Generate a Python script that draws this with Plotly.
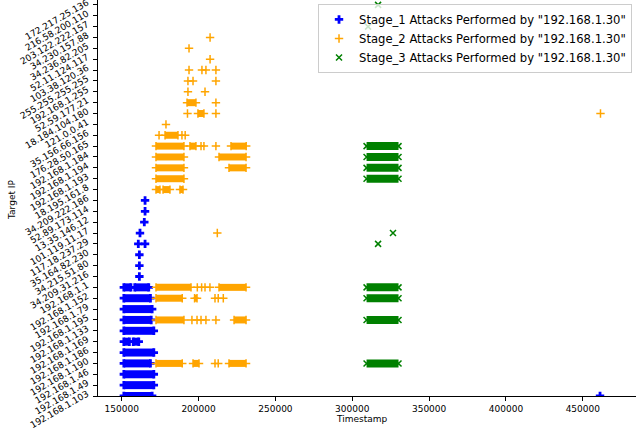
import plotly.graph_objects as go

# ---- categories (bottom -> top) ----
IPS = ["192.168.1.103", "192.168.1.49", "192.168.1.46", "192.168.1.190", "192.168.1.186",
       "192.168.1.169", "192.168.1.133", "192.168.1.195", "192.168.1.79", "192.168.1.152",
       "192.168.1.1", "34.209.31.216", "34.215.51.80", "35.164.82.230", "117.18.237.29",
       "101.119.11.17", "13.35.146.12", "52.89.173.114", "34.209.222.186", "18.195.161.8",
       "192.168.1.193", "192.168.1.194", "192.168.1.184", "176.28.50.165", "35.156.66.156",
       "121.0.0.41", "18.184.104.180", "52.59.177.21", "192.168.1.255", "255.255.255.255",
       "103.38.120.36", "52.11.124.117", "34.236.82.205", "34.230.157.88", "203.122.222.157",
       "216.58.200.110", "172.217.25.136"]

X_TICKS = [150000, 200000, 250000, 300000, 350000, 400000, 450000]

# ---- Stage 1: dense runs (start/end timestamps) and single events ----
S1_RUN_IP = ["192.168.1.103", "192.168.1.49", "192.168.1.46", "192.168.1.190", "192.168.1.186",
             "192.168.1.169", "192.168.1.169", "192.168.1.133", "192.168.1.195", "192.168.1.79",
             "192.168.1.152", "192.168.1.1", "192.168.1.1"]
S1_RUN_START = [151400, 151400, 151400, 151400, 151400, 151400, 157500, 151400, 151400, 151400,
                151400, 151400, 158500]
S1_RUN_END = [169800, 170900, 170900, 168700, 170900, 155000, 161100, 170900, 169200, 169800,
              168700, 156000, 167600]
S1_PT_IP = ["34.209.222.186", "52.89.173.114", "13.35.146.12", "101.119.11.17", "117.18.237.29",
            "117.18.237.29", "35.164.82.230", "34.215.51.80", "34.209.31.216", "192.168.1.103"]
S1_PT_T = [165200, 165200, 164700, 161900, 160800, 165200, 161500, 161500, 161500, 461200]

# ---- Stage 2 ----
S2_RUN_IP = ["192.168.1.1", "192.168.1.1",
             "192.168.1.152", "192.168.1.152",
             "192.168.1.195", "192.168.1.195",
             "192.168.1.190", "192.168.1.190", "192.168.1.190",
             "18.195.161.8", "18.195.161.8", "18.195.161.8",
             "192.168.1.193",
             "192.168.1.194", "192.168.1.194",
             "192.168.1.184", "192.168.1.184",
             "176.28.50.165", "176.28.50.165", "176.28.50.165",
             "35.156.66.156", "18.184.104.180", "52.59.177.21"]
S2_RUN_START = [172300, 213300,
                172300, 197400,
                172300, 223100,
                172300, 196400, 219800,
                172300, 176900, 187900,
                172300,
                172300, 219800,
                172300, 213300,
                172300, 194400, 221100,
                178200, 199600, 192500]
S2_RUN_END = [195100, 230900,
              189400, 199000,
              190500, 230900,
              189400, 200300, 230900,
              174900, 181400, 189900,
              190500,
              190500, 230900,
              190500, 230900,
              190500, 198300, 231000,
              186600, 203500, 198300]
S2_PT_IP = ["192.168.1.1", "192.168.1.1", "192.168.1.1", "192.168.1.1",
            "192.168.1.152", "192.168.1.152", "192.168.1.152",
            "192.168.1.195", "192.168.1.195", "192.168.1.195", "192.168.1.195", "192.168.1.195",
            "192.168.1.190", "192.168.1.190",
            "176.28.50.165", "176.28.50.165", "176.28.50.165",
            "35.156.66.156", "35.156.66.156", "35.156.66.156",
            "121.0.0.41",
            "18.184.104.180", "18.184.104.180", "18.184.104.180",
            "52.59.177.21",
            "192.168.1.255", "192.168.1.255",
            "255.255.255.255", "255.255.255.255", "255.255.255.255",
            "103.38.120.36", "103.38.120.36", "103.38.120.36", "103.38.120.36",
            "52.11.124.117", "34.236.82.205", "34.230.157.88", "101.119.11.17"]
S2_PT_T = [199200, 202000, 204200, 207400,
           210700, 212800, 216100,
           195700, 199000, 201600, 204800, 211300,
           210700, 212800,
           201600, 203500, 211300,
           174300, 189200, 191300,
           178800,
           192800, 211300, 461500,
           211300,
           193100, 204200,
           193100, 196400, 211300,
           193800, 202200, 204800, 211300,
           207500, 193800, 207500, 212200]

# ---- Stage 3 ----
S3_RUN_IP = ["176.28.50.165", "192.168.1.184", "192.168.1.194", "192.168.1.193",
             "192.168.1.1", "192.168.1.152", "192.168.1.195", "192.168.1.190"]
S3_RUN_START = [309300, 309300, 309300, 309300, 309300, 309300, 309300, 309300]
S3_RUN_END = [330100, 330100, 330100, 330100, 330100, 330100, 330100, 330100]
S3_PT_IP = ["172.217.25.136", "203.122.222.157", "117.18.237.29", "101.119.11.17"]
S3_PT_T = [316800, 310300, 316800, 326500]

NAMES = ['Stage_1 Attacks Performed by "192.168.1.30"',
         'Stage_2 Attacks Performed by "192.168.1.30"',
         'Stage_3 Attacks Performed by "192.168.1.30"']


def runs_xy(ips, starts, ends):
    xs, ys = [], []
    for ip, s, e in zip(ips, starts, ends):
        xs += [s, e, None]
        ys += [ip, ip, None]
    return xs, ys


styles = [
    dict(color="blue", symbol="cross", size=7, lw=0, band=8),
    dict(color="orange", symbol="cross-thin-open", size=6, lw=1.5, band=7),
    dict(color="green", symbol="x-thin-open", size=6, lw=1.5, band=8),
]
runs = [(S1_RUN_IP, S1_RUN_START, S1_RUN_END),
        (S2_RUN_IP, S2_RUN_START, S2_RUN_END),
        (S3_RUN_IP, S3_RUN_START, S3_RUN_END)]
pts = [(S1_PT_IP, S1_PT_T), (S2_PT_IP, S2_PT_T), (S3_PT_IP, S3_PT_T)]

fig = go.Figure()
for st, (ri, rs, re_), (pi, pt), name in zip(styles, runs, pts, NAMES):
    mk = dict(symbol=st["symbol"], size=st["size"], color=st["color"],
              line=dict(color=st["color"], width=st["lw"]))
    bx, by = runs_xy(ri, rs, re_)
    fig.add_trace(go.Scatter(x=bx, y=by, mode="lines+markers",
                             line=dict(color=st["color"], width=st["band"]),
                             marker=mk, showlegend=False, hoverinfo="skip",
                             connectgaps=False))
    fig.add_trace(go.Scatter(x=pt, y=pi, mode="markers", marker=mk, name=name))

fig.update_layout(
    width=636, height=438,
    margin=dict(l=98, r=0, t=0, b=42, autoexpand=False),
    paper_bgcolor="white", plot_bgcolor="white",
    font=dict(family="DejaVu Sans", size=9, color="black"),
    legend=dict(x=0.9926, y=0.99, xanchor="right", yanchor="top",
                bgcolor="rgba(255,255,255,0.8)", bordercolor="#cccccc", borderwidth=1,
                font=dict(size=11.6, color="black"), itemwidth=30),
    xaxis=dict(range=[134580, 484600], tickvals=X_TICKS, ticktext=[str(v) for v in X_TICKS],
               showline=True, linecolor="black", linewidth=1, ticks="outside", ticklen=4,
               tickcolor="black", showgrid=False, zeroline=False, tickfont=dict(size=9),
               automargin=False),
    yaxis=dict(type="category", categoryorder="array", categoryarray=IPS,
               tickvals=IPS, ticktext=IPS, range=[0, 36.45], tickangle=-30,
               showline=True, linecolor="black", linewidth=1, ticks="outside", ticklen=4,
               tickcolor="black", showgrid=False, zeroline=False, tickfont=dict(size=9),
               ticklabelstandoff=4, ticklabelshift=-3, automargin=False),
    annotations=[
        dict(text="Timestamp", xref="paper", yref="paper", x=0.49, y=-0.058,
             xanchor="center", yanchor="middle", showarrow=False, font=dict(size=9)),
        dict(text="Target IP", xref="paper", yref="paper", x=-0.16, y=0.495,
             xanchor="center", yanchor="middle", textangle=-90, showarrow=False,
             font=dict(size=9)),
    ],
)

fig.write_html("out.html", config={"displayModeBar": False},
               post_script="document.body.style.margin='0';document.body.style.padding='0';")
